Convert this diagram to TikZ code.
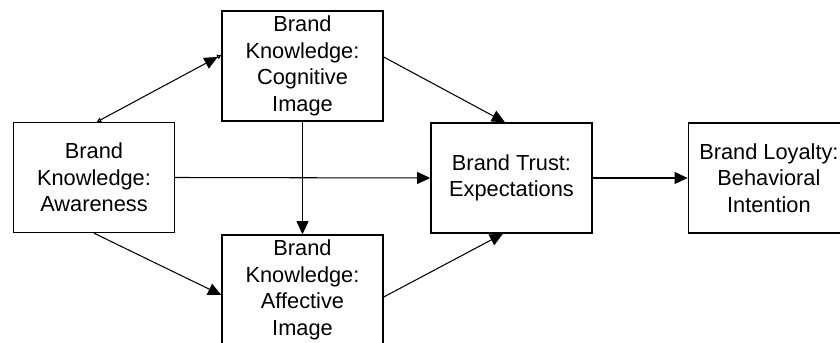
\documentclass[tikz,border=0pt]{standalone}
\usepackage{fontspec}
\setmainfont{Liberation Sans}
\usetikzlibrary{arrows.meta, positioning}
\tikzset{
  every picture/.style={font=\fontsize{15.5}{19}\selectfont, line width=0.75pt},
  box/.style={draw=black, line width=1pt, align=center, inner sep=0pt, minimum width=4.025cm, minimum height=2.75cm},
  arrow/.style={-{Triangle[length=0.33cm, width=0.3cm]}, draw=black, line width=0.75pt},
  biarrow/.style={{Triangle[open, length=3pt, width=3.5pt]}-{Triangle[length=0.33cm, width=0.3cm] Triangle[open, length=3pt, width=3.5pt]}, draw=black, line width=0.75pt},
}

\begin{document}
\begin{tikzpicture}
  \useasboundingbox (0,0) rectangle (21,-8.575);
  \node[box] (aware) at (2.35,-4.4375) {Brand\\Knowledge:\\Awareness};
  \node[box] (cog) at (7.5625,-1.65) {Brand\\Knowledge:\\Cognitive\\Image};
  \node[box] (aff) at (7.5625,-7.25) {Brand\\Knowledge:\\Affective\\Image};
  \node[box] (trust) at (12.7875,-4.45) {Brand Trust:\\Expectations};
  \node[box, right=2.375cm of trust] (loyal) {Brand Loyalty:\\Behavioral\\Intention};
  % links into the two image boxes
  \draw[biarrow] ([xshift=0.075cm]aware.north) -- ([yshift=0.275cm]cog.west);
  \draw[arrow] (aware.south) -- ([yshift=-0.125cm]aff.west);
  \draw[arrow] (cog.south) -- (aff.north);
  % links into trust, then loyalty
  \draw[arrow] ([yshift=0.225cm]cog.east) -- ([xshift=-0.1625cm]trust.north);
  \draw[arrow] (aware.east) -- (trust.west);
  \draw[arrow] ([yshift=-0.175cm]aff.east) -- ([xshift=-0.2125cm]trust.south);
  \draw[arrow] (trust.east) -- (loyal.west);
\end{tikzpicture}
\end{document}
